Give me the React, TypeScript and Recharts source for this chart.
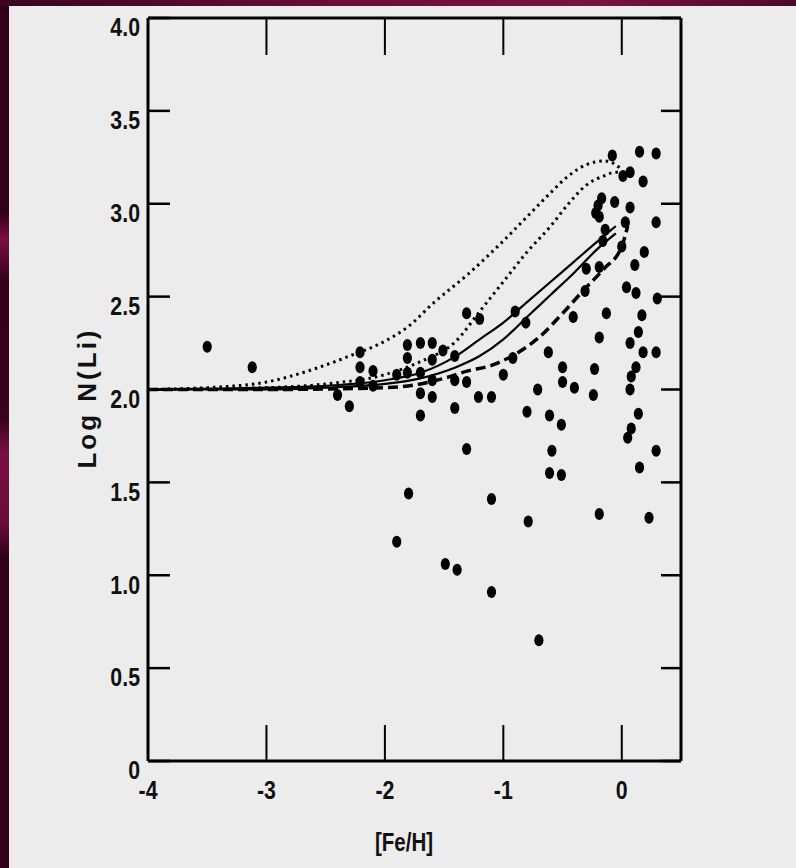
import React from 'react';
import { ComposedChart, Line, Scatter, XAxis, YAxis, Label } from 'recharts';

// axis ticks
const xTicks = [-4, -3, -2, -1, 0];
const yTicks = [0, 0.5, 1, 1.5, 2, 2.5, 3, 3.5, 4];
const yTickLabels = ['0', '0.5', '1.0', '1.5', '2.0', '2.5', '3.0', '3.5', '4.0'];

// observed stars: [Fe/H], log N(Li)
const stars: [number, number][] = [
  [-3.5, 2.23], [-3.12, 2.12], [-2.4, 1.97], [-2.3, 1.91],
  [-2.21, 2.2], [-2.21, 2.12], [-2.21, 2.04], [-2.1, 2.1], [-2.1, 2.02],
  [-1.9, 2.08], [-1.9, 1.18], [-1.81, 2.24], [-1.81, 2.17], [-1.81, 2.09], [-1.8, 1.44],
  [-1.7, 2.25], [-1.7, 2.09], [-1.7, 1.98], [-1.7, 1.86],
  [-1.6, 2.25], [-1.6, 2.16], [-1.6, 2.05], [-1.6, 1.96],
  [-1.51, 2.21], [-1.49, 1.06],
  [-1.41, 2.18], [-1.41, 2.05], [-1.41, 1.9], [-1.39, 1.03],
  [-1.31, 2.41], [-1.31, 2.04], [-1.31, 1.68],
  [-1.2, 2.38], [-1.21, 1.96],
  [-1.1, 1.96], [-1.1, 1.41], [-1.1, 0.91],
  [-1.0, 2.08], [-0.92, 2.17], [-0.9, 2.42], [-0.81, 2.36], [-0.8, 1.88], [-0.79, 1.29],
  [-0.71, 2.0], [-0.7, 0.65],
  [-0.62, 2.2], [-0.61, 1.86], [-0.59, 1.67], [-0.61, 1.55],
  [-0.51, 1.54], [-0.51, 1.81], [-0.5, 2.12], [-0.5, 2.04], [-0.41, 2.39], [-0.4, 2.01],
  [-0.31, 2.53], [-0.3, 2.65], [-0.24, 1.97], [-0.23, 2.11],
  [-0.22, 2.95], [-0.2, 2.99], [-0.19, 2.93], [-0.19, 2.66], [-0.19, 2.28], [-0.19, 1.33],
  [-0.17, 3.03], [-0.16, 2.8], [-0.14, 2.86], [-0.13, 2.41],
  [-0.08, 3.26], [-0.06, 3.01],
  [0.0, 2.77], [0.01, 3.15], [0.03, 2.9], [0.04, 2.55], [0.05, 1.74], [0.07, 3.17], [0.07, 2.98],
  [0.07, 2.25], [0.07, 2.0], [0.08, 2.07], [0.08, 1.79],
  [0.11, 2.67], [0.12, 2.52], [0.12, 2.12], [0.14, 2.31], [0.14, 1.87], [0.15, 3.28], [0.15, 1.58],
  [0.17, 2.4], [0.18, 3.12], [0.18, 2.2], [0.19, 2.74], [0.23, 1.31],
  [0.29, 3.27], [0.29, 2.9], [0.29, 2.2], [0.29, 1.67], [0.3, 2.49],
];

// model curves
const upperDotted: [number, number][] = [
  [-4, 2.0], [-3.5, 2.01], [-3.0, 2.04], [-2.6, 2.11], [-2.3, 2.18], [-2.0, 2.26], [-1.8, 2.34],
  [-1.6, 2.46], [-1.3, 2.62], [-1.0, 2.8], [-0.8, 2.93], [-0.6, 3.06], [-0.45, 3.15], [-0.3, 3.21],
  [-0.15, 3.23], [-0.05, 3.21], [0.0, 3.18],
];
const lowerDotted: [number, number][] = [
  [-4, 2.0], [-3.0, 2.01], [-2.5, 2.03], [-2.0, 2.08], [-1.7, 2.15], [-1.4, 2.26], [-1.2, 2.42],
  [-1.0, 2.58], [-0.8, 2.74], [-0.6, 2.88], [-0.45, 3.0], [-0.3, 3.1], [-0.15, 3.15], [-0.05, 3.17],
  [0.0, 3.17],
];
const upperSolid: [number, number][] = [
  [-4, 2.0], [-3.0, 2.01], [-2.5, 2.02], [-2.0, 2.05], [-1.7, 2.09], [-1.4, 2.18], [-1.2, 2.27],
  [-1.0, 2.36], [-0.8, 2.47], [-0.6, 2.58], [-0.4, 2.69], [-0.2, 2.8], [-0.05, 2.88],
];
const lowerSolid: [number, number][] = [
  [-4, 2.0], [-3.0, 2.0], [-2.5, 2.01], [-2.0, 2.03], [-1.7, 2.06], [-1.4, 2.12], [-1.2, 2.18],
  [-1.0, 2.27], [-0.8, 2.39], [-0.6, 2.51], [-0.4, 2.63], [-0.2, 2.76], [-0.05, 2.84],
];
const dashedModel: [number, number][] = [
  [-4, 2.0], [-3.0, 2.0], [-2.0, 2.01], [-1.7, 2.03], [-1.5, 2.06], [-1.3, 2.1], [-1.1, 2.13],
  [-0.9, 2.19], [-0.7, 2.28], [-0.5, 2.41], [-0.3, 2.55], [-0.15, 2.65], [0.0, 2.77], [0.05, 2.88],
];

const rows = (pts: [number, number][]) => pts.map(([x, y]) => ({ x, y }));

const sans = "'Liberation Sans', Arial, sans-serif";

// narrow bold text, squeezed horizontally around its anchor
const NarrowText = ({ x, y, anchor, size, children }: any) => (
  <g transform={`translate(${x},${y}) scale(0.82,1)`}>
    <text x={0} y={0} textAnchor={anchor} dominantBaseline="central"
      fontFamily={sans} fontWeight={700} fontSize={size} fill="#111">
      {children}
    </text>
  </g>
);

const YTick = ({ x, y, payload }: any) => (
  <NarrowText x={x} y={y + 9} anchor="end" size={26}>
    {yTickLabels[yTicks.indexOf(payload.value)]}
  </NarrowText>
);

const XTick = ({ x, y, payload }: any) => (
  <NarrowText x={x} y={y + 29} anchor="middle" size={26}>
    {String(payload.value)}
  </NarrowText>
);

const NoTick = () => <g />;

const Dot = (props: any) => {
  const { cx, cy } = props;
  if (cx == null || cy == null) return null;
  return <ellipse cx={cx} cy={cy} rx={4.6} ry={6} fill="#000" />;
};

const frame = { stroke: '#000', strokeWidth: 3 };

export default function App() {
  return (
    <div style={{
      position: 'absolute', left: 0, top: 0, width: 796, height: 868,
      background: 'linear-gradient(90deg, #3a0420 0%, #6e0e3a 45%, #7a1242 75%, #4e0828 100%)',
    }}>
      <div style={{
        position: 'absolute', left: 0, top: 6, width: 9, height: 862,
        background: 'linear-gradient(180deg, #33001a 0%, #33001a 24%, #7a1042 27%, #33001a 32%, #3a0420 48%, #7a1042 52%, #6a0c38 60%, #33001a 64%, #33001a 100%)',
      }} />
      <div style={{ position: 'absolute', left: 9, top: 6, width: 787, height: 862, background: '#ececec' }} />
      <div style={{ position: 'absolute', left: 0, top: 0 }}>
        <ComposedChart width={796} height={868} margin={{ top: 16, right: 113, bottom: 67, left: 88 }}>
          <XAxis
            xAxisId="b" dataKey="x" type="number" domain={[-4, 0.5]} ticks={xTicks} interval={0}
            allowDataOverflow height={40} tickSize={-36} tickMargin={36}
            axisLine={frame} tickLine={{ stroke: '#000', strokeWidth: 2 }}
            tick={<XTick />}
          >
            <Label content={() => (
              <NarrowText x={404} y={842} anchor="middle" size={25}>[Fe/H]</NarrowText>
            )} />
          </XAxis>
          <XAxis
            xAxisId="t" orientation="top" dataKey="x" type="number" domain={[-4, 0.5]} ticks={xTicks}
            interval={0} allowDataOverflow height={2} tickSize={-37} tick={<NoTick />}
            axisLine={frame} tickLine={{ stroke: '#000', strokeWidth: 2 }}
          />
          <YAxis
            yAxisId="l" dataKey="y" type="number" domain={[0, 4]} ticks={yTicks} interval={0}
            allowDataOverflow width={60} tickSize={-22} tickMargin={30}
            axisLine={frame} tickLine={{ stroke: '#000', strokeWidth: 2.5 }}
            tick={<YTick />}
          >
            <Label content={() => (
              <text x={87} y={398} transform="rotate(-90 87 398)" textAnchor="middle" dominantBaseline="central"
                fontFamily={sans} fontWeight={700} fontSize={26} letterSpacing={3} fill="#111">
                Log N(Li)
              </text>
            )} />
          </YAxis>
          <YAxis
            yAxisId="r" orientation="right" dataKey="y" type="number" domain={[0, 4]} ticks={yTicks}
            interval={0} allowDataOverflow width={2} tickSize={-20} tick={<NoTick />}
            axisLine={frame} tickLine={{ stroke: '#000', strokeWidth: 2.5 }}
          />
          {/* carrier series so the top and right frame axes are laid out */}
          <Line xAxisId="t" yAxisId="r" data={rows(upperDotted)} dataKey="y" stroke="none" dot={false}
            activeDot={false} isAnimationActive={false} />
          <Line xAxisId="b" yAxisId="l" data={rows(upperDotted)} dataKey="y" type="monotone" stroke="#000"
            strokeWidth={3} strokeDasharray="2.5 4" dot={false} isAnimationActive={false} />
          <Line xAxisId="b" yAxisId="l" data={rows(lowerDotted)} dataKey="y" type="monotone" stroke="#000"
            strokeWidth={3} strokeDasharray="2.5 4" dot={false} isAnimationActive={false} />
          <Line xAxisId="b" yAxisId="l" data={rows(upperSolid)} dataKey="y" type="monotone" stroke="#000"
            strokeWidth={2.2} dot={false} isAnimationActive={false} />
          <Line xAxisId="b" yAxisId="l" data={rows(lowerSolid)} dataKey="y" type="monotone" stroke="#000"
            strokeWidth={2.2} dot={false} isAnimationActive={false} />
          <Line xAxisId="b" yAxisId="l" data={rows(dashedModel)} dataKey="y" type="monotone" stroke="#000"
            strokeWidth={3.5} strokeDasharray="10 5" dot={false} isAnimationActive={false} />
          <Scatter xAxisId="b" yAxisId="l" data={rows(stars)} dataKey="y" fill="#000" shape={<Dot />}
            isAnimationActive={false} />
        </ComposedChart>
      </div>
    </div>
  );
}
